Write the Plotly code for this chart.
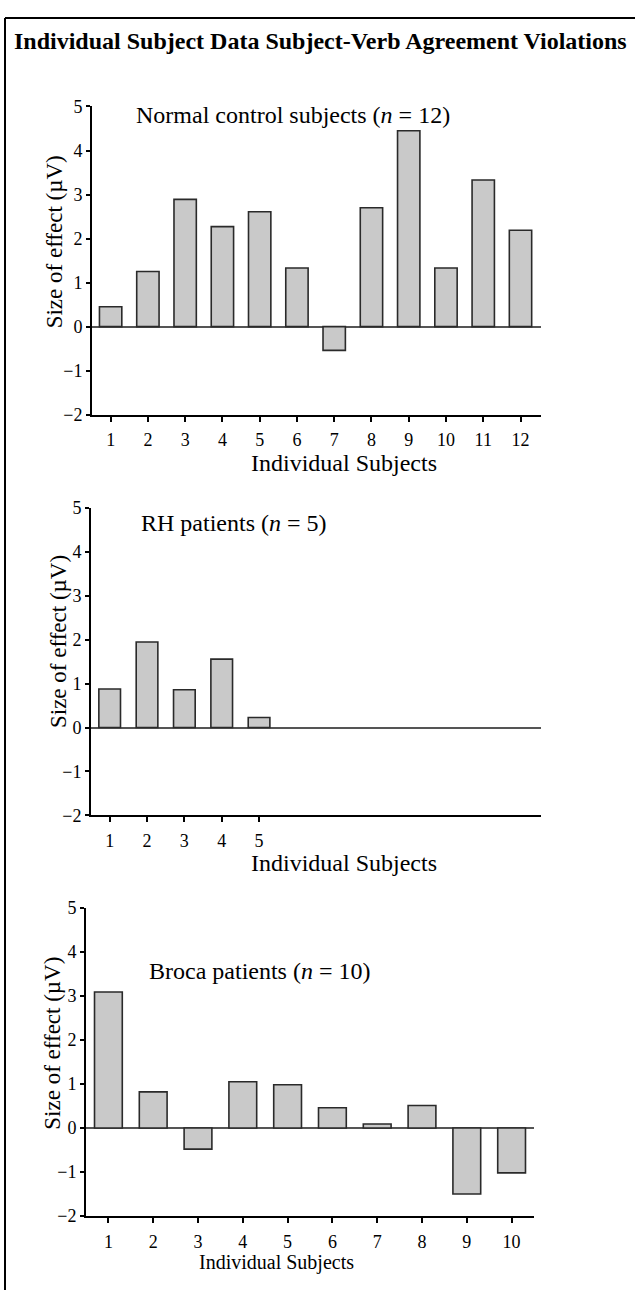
import plotly.graph_objects as go

W, H = 635, 1290

# data (effect size in microvolts)
normal_subjects = list(range(1, 13))
normal_effect = [0.45, 1.25, 2.89, 2.27, 2.61, 1.33, -0.54, 2.70, 4.45, 1.33, 3.33, 2.19]

rh_subjects = list(range(1, 6))
rh_effect = [0.88, 1.95, 0.86, 1.56, 0.23]

broca_subjects = list(range(1, 11))
broca_effect = [3.09, 0.82, -0.48, 1.05, 0.98, 0.46, 0.09, 0.51, -1.50, -1.02]

y_ticks = [-2, -1, 0, 1, 2, 3, 4, 5]

FONT = "Liberation Serif, Times New Roman, serif"


def px(x):
    return x / W


def py(y):
    return 1 - y / H


fig = go.Figure()

bar_style = dict(marker=dict(color="#c9c9c9", line=dict(color="#2a2a2a", width=1.6)),
                 showlegend=False, hoverinfo="skip")

fig.add_trace(go.Bar(x=normal_subjects, y=normal_effect, width=0.6, xaxis="x", yaxis="y", **bar_style))
fig.add_trace(go.Bar(x=rh_subjects, y=rh_effect, width=0.58, xaxis="x2", yaxis="y2", **bar_style))
fig.add_trace(go.Bar(x=broca_subjects, y=broca_effect, width=0.62, xaxis="x3", yaxis="y3", **bar_style))

xbase = dict(showline=True, linecolor="black", linewidth=2, ticks="outside", ticklen=5,
             tickwidth=1.5, tickcolor="black", showgrid=False, zeroline=False,
             tickfont=dict(family=FONT, size=18, color="black"), ticklabelstandoff=3,
             fixedrange=True)
ybase = dict(showline=True, linecolor="black", linewidth=2, ticks="outside", ticklen=4,
             tickwidth=1.5, tickcolor="black", showgrid=False, range=[-2, 5],
             tickvals=y_ticks, zeroline=True, zerolinecolor="#555555", zerolinewidth=1.5,
             tickfont=dict(family=FONT, size=18, color="black"), ticklabelstandoff=0,
             fixedrange=True)

# panel geometry (pixels): x-axis span and y positions of 5 and -2
panels = [
    (92, 541, 98, 411, [0.5, 12.55], normal_subjects),
    (91, 541, 506, 818, [0.5, 12.55], rh_subjects),
    (86, 534, 912, 1225, [0.5, 10.5], broca_subjects),
]

layout = {}
for i, (xl, xr, yt, yb, xr_range, ticks) in enumerate(panels):
    sfx = "" if i == 0 else str(i + 1)
    layout["xaxis" + sfx] = dict(xbase, domain=[px(xl), px(xr)], range=xr_range,
                                 tickvals=ticks, anchor="y" + sfx)
    layout["yaxis" + sfx] = dict(ybase, domain=[py(yb), py(yt)], anchor="x" + sfx)

annotations = [
    dict(text="<b>Individual Subject Data Subject-Verb Agreement Violations</b>",
         x=px(320), y=py(31), font=dict(size=24)),
    dict(text="Normal control subjects (<i>n</i> = 12)", x=px(134), y=py(107),
         xanchor="left", font=dict(size=24)),
    dict(text="RH patients (<i>n</i> = 5)", x=px(139), y=py(521),
         xanchor="left", font=dict(size=24)),
    dict(text="Broca patients (<i>n</i> = 10)", x=px(147), y=py(976),
         xanchor="left", font=dict(size=24)),
    dict(text="Individual Subjects", x=px(344), y=py(460), font=dict(size=24)),
    dict(text="Individual Subjects", x=px(344), y=py(866), font=dict(size=24)),
    dict(text="Individual Subjects", x=px(276), y=py(1272), font=dict(size=20)),
    dict(text="Size of effect (µV)", x=px(54), y=py(236), textangle=-90, font=dict(size=23)),
    dict(text="Size of effect (µV)", x=px(58), y=py(642), textangle=-90, font=dict(size=23)),
    dict(text="Size of effect (µV)", x=px(53), y=py(1050), textangle=-90, font=dict(size=23)),
]
for a in annotations:
    a.setdefault("xanchor", "center")
    a.update(xref="paper", yref="paper", yanchor="middle", showarrow=False)
    a["font"] = dict(family=FONT, color="black", **a["font"])

# frame around the figure (top and left edges visible)
shapes = [
    dict(type="line", xref="paper", yref="paper", x0=px(5), x1=1.01, y0=py(8), y1=py(8),
         line=dict(color="black", width=2)),
    dict(type="line", xref="paper", yref="paper", x0=px(5), x1=px(5), y0=py(8), y1=-0.01,
         line=dict(color="black", width=2)),
]

fig.update_layout(
    width=W, height=H,
    margin=dict(l=0, r=0, t=0, b=0),
    paper_bgcolor="white", plot_bgcolor="white",
    bargap=0.4,
    annotations=annotations,
    shapes=shapes,
    **layout,
)

fig.write_html("out.html", config={"displayModeBar": False},
               post_script="document.body.style.margin='0';")
